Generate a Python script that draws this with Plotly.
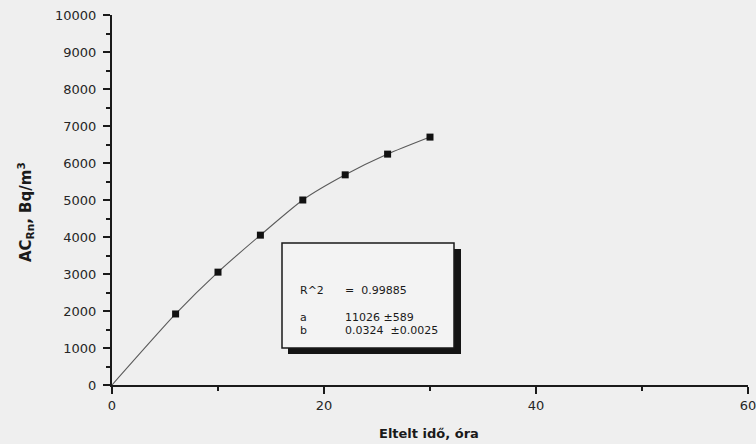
import plotly.graph_objects as go

# ---- data ----
hours = [6, 10, 14, 18, 22, 26, 30]
activity = [1920, 3050, 4050, 5000, 5680, 6240, 6700]

fit_hours = [0, 6, 10, 14, 18, 22, 26, 30]
fit_values = [0, 1920, 3050, 4050, 5000, 5680, 6240, 6700]

x_ticks = [0, 20, 40, 60]
y_ticks = [0, 1000, 2000, 3000, 4000, 5000, 6000, 7000, 8000, 9000, 10000]

fit_labels = ["R^2", "a", "b"]
fit_texts = ["=  0.99885", "11026 \u00b1589", "0.0324  \u00b10.0025"]

x_title = "Eltelt id\u0151, \u00f3ra"
y_title = "AC<sub>Rn</sub>, Bq/m<sup>3</sup>"

# ---- layout geometry (pixels) ----
W, H = 756, 444
L, R, T, B = 112, 8, 15, 59
PW, PH = W - L - R, H - T - B


def px(xp):
    return (xp - L) / PW


def py(yp):
    return (H - B - yp) / PH


INK = "#1a1a1a"
fig = go.Figure()

fig.add_trace(go.Scatter(
    x=fit_hours, y=fit_values, mode="lines",
    line=dict(color="#5a5a5a", width=1.1, shape="spline", smoothing=0.6),
    hoverinfo="skip", showlegend=False,
))
fig.add_trace(go.Scatter(
    x=hours, y=activity, mode="markers",
    marker=dict(symbol="square", size=7, color="#111111"),
    showlegend=False, cliponaxis=False,
))

annotations = []

# fit result box text
rows_y = [290, 317, 330]
for lab, val, yy in zip(fit_labels, fit_texts, rows_y):
    annotations.append(dict(
        xref="paper", yref="paper", x=px(298), y=py(yy), xanchor="left",
        yanchor="middle", showarrow=False, text=lab,
        font=dict(family="DejaVu Sans", size=11, color=INK),
    ))
    annotations.append(dict(
        xref="paper", yref="paper", x=px(343), y=py(yy), xanchor="left",
        yanchor="middle", showarrow=False, text=val,
        font=dict(family="DejaVu Sans", size=11, color=INK),
    ))

annotations.append(dict(
    xref="paper", yref="paper", x=px(25), y=py(212), xanchor="center",
    yanchor="middle", showarrow=False, text=y_title, textangle=-90,
    font=dict(family="DejaVu Sans", size=15, color=INK, weight="bold"),
))
annotations.append(dict(
    xref="paper", yref="paper", x=px(429), y=py(433), xanchor="center",
    yanchor="middle", showarrow=False, text=x_title,
    font=dict(family="DejaVu Sans", size=13, color=INK, weight="bold"),
))

shapes = [
    dict(type="rect", xref="paper", yref="paper", x0=px(288), x1=px(461),
         y0=py(354), y1=py(249), fillcolor="#141414", line=dict(width=0),
         layer="above"),
    dict(type="rect", xref="paper", yref="paper", x0=px(282), x1=px(454),
         y0=py(348), y1=py(243), fillcolor="#f3f3f3",
         line=dict(color="#1a1a1a", width=1.5), layer="above"),
]

axis_common = dict(
    showline=True, linecolor=INK, linewidth=2, ticks="outside",
    ticklen=7, tickwidth=1.5, tickcolor=INK, showgrid=False, zeroline=False,
    tickfont=dict(family="DejaVu Sans", size=13, color="#262626"),
    mirror=False, ticklabeloverflow="allow", automargin=False,
)

fig.update_layout(
    width=W, height=H,
    margin=dict(l=L, r=R, t=T, b=B),
    paper_bgcolor="#efefef", plot_bgcolor="rgba(0,0,0,0)",
    xaxis=dict(range=[0, 60], tickvals=x_ticks,
               ticktext=[str(v) for v in x_ticks],
               minor=dict(dtick=10, ticklen=4, ticks="outside",
                          tickcolor=INK, tickwidth=1.5, showgrid=False),
               **axis_common),
    yaxis=dict(range=[0, 10000], tickvals=y_ticks,
               ticktext=[str(v) for v in y_ticks], ticklabelstandoff=4,
               minor=dict(dtick=500, ticklen=4, ticks="outside",
                          tickcolor=INK, tickwidth=1.5, showgrid=False),
               **axis_common),
    annotations=annotations,
    shapes=shapes,
    showlegend=False,
)

fig.write_html("out.html")
